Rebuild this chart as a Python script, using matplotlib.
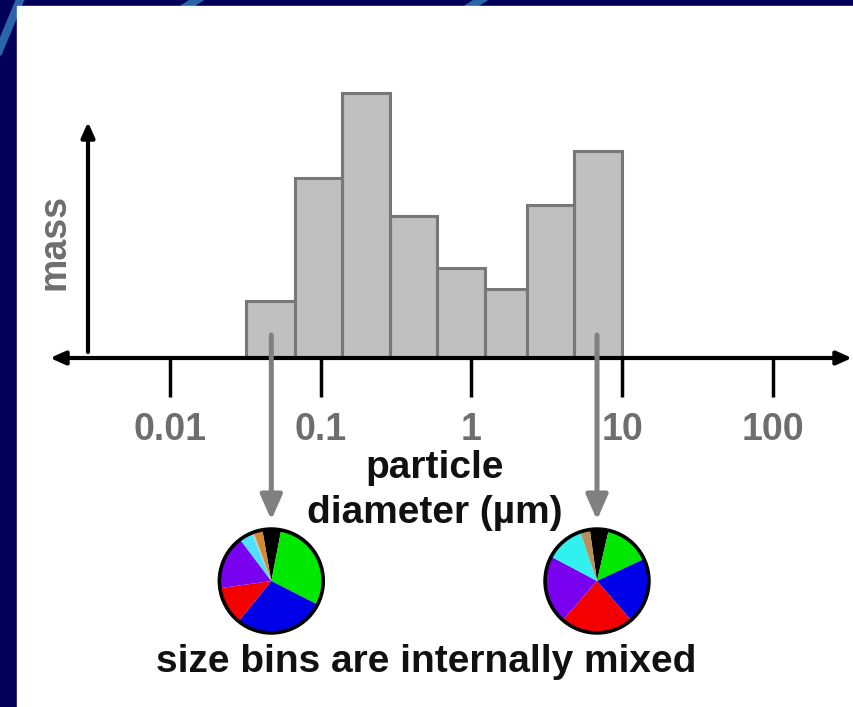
import numpy as np
import matplotlib.pyplot as plt
from matplotlib.patches import Rectangle, Circle
from matplotlib.lines import Line2D

plt.rcParams['font.family'] = ['Liberation Sans', 'DejaVu Sans']

# histogram data
bin_edges = [0.032, 0.067, 0.139, 0.288, 0.593, 1.23, 2.32, 4.81, 10.0]
mass = [0.215, 0.68, 1.0, 0.536, 0.34, 0.26, 0.577, 0.78]
tick_values = [0.01, 0.1, 1, 10, 100]
tick_labels = ['0.01', '0.1', '1', '10', '100']

# diameters where the arrows point to the mixed pies
mix_diameters = [0.047, 6.8]
left_fracs = [21, 106, 102, 43, 61, 15, 2, 10]
left_colors = ['#000000', '#00e800', '#0000e8', '#f50000', '#7a00f0', '#50e0ff', '#c8c8c8', '#d08a30']
right_fracs = [21, 52, 74, 82, 77, 43, 11]
right_colors = ['#000000', '#00e800', '#0000e8', '#f50000', '#7a00f0', '#30f0f0', '#b89060']

W, H = 854, 707
fig = plt.figure(figsize=(W / 100, H / 100), dpi=100, facecolor='#00005a')

# blue streaks in the border
for (x0, y0, x1, y1) in [(-5, 60, 22, -5), (178, 12, 206, -6), (462, 12, 490, -6)]:
    fig.add_artist(Line2D([x0 / W, x1 / W], [1 - y0 / H, 1 - y1 / H], color='#2a64aa',
                          lw=6, transform=fig.transFigure, zorder=-2))
fig.add_artist(Rectangle((17 / W, 0), 1 - 17 / W, 1 - 6 / H, transform=fig.transFigure,
                         color='white', zorder=-1))

# axes covering whole figure, log x
x_one, decade = 471.5, 150.75   # pixel of 1 um, pixels per decade
y_zero, unit = 358, 265        # pixel of zero mass, pixels per mass unit
ax = fig.add_axes([0, 0, 1, 1])
ax.set_xscale('log')
ax.set_xlim(10 ** ((0 - x_one) / decade), 10 ** ((W - x_one) / decade))
ax.set_ylim(-(H - y_zero) / unit, y_zero / unit)
ax.axis('off')

widths = np.diff(bin_edges)
ax.bar(bin_edges[:-1], mass, width=widths, align='edge', color='#c0c0c0',
       edgecolor='#777777', linewidth=2.2, zorder=2)

# horizontal axis with arrows both ends
xl = 10 ** ((50 - x_one) / decade)
xr = 10 ** ((852 - x_one) / decade)
ax.annotate('', xy=(xr, 0), xytext=(xl, 0),
            arrowprops=dict(arrowstyle='<|-|>,head_length=0.45,head_width=0.2', color='black',
                            lw=3, shrinkA=0, shrinkB=0, mutation_scale=20), zorder=3)
# vertical mass axis
xm = 10 ** ((88 - x_one) / decade)
ax.annotate('', xy=(xm, 236 / unit), xytext=(xm, 6 / unit),
            arrowprops=dict(arrowstyle='-|>,head_length=0.45,head_width=0.2', color='black',
                            lw=3, shrinkA=0, shrinkB=0, mutation_scale=20), zorder=3)

ax.vlines(tick_values, -39 / unit, 0, color='black', lw=2.5, zorder=3)
for v, lab in zip(tick_values, tick_labels):
    ax.text(v, -82 / unit, lab, ha='center', va='baseline', fontsize=27,
            color='#6e6e6e', fontweight='bold')

fig.text(65 / W, 1 - 242 / H, 'mass', rotation=90, rotation_mode='anchor', ha='center',
         va='baseline', fontsize=27, color='#6e6e6e', fontweight='bold')

# gray arrows down to the pies
for d in mix_diameters:
    ax.annotate('', xy=(d, -162 / unit), xytext=(d, 23 / unit),
                arrowprops=dict(arrowstyle='-|>,head_length=0.75,head_width=0.33', color='#808080',
                                lw=3.6, shrinkA=0, shrinkB=0, mutation_scale=20), zorder=4)

fig.text(435 / W, 1 - 478 / H, 'particle', ha='center', va='baseline', fontsize=28,
         fontweight='bold', color='#111111')
fig.text(435 / W, 1 - 523 / H, 'diameter (µm)', ha='center', va='baseline', fontsize=28,
         fontweight='bold', color='#111111')
fig.text(426.5 / W, 1 - 672 / H, 'size bins are internally mixed', ha='center', va='baseline',
         fontsize=28, fontweight='bold', color='#111111')

# pies
r = 54
cy = H - 581
for d, fracs, cols, start in [(mix_diameters[0], left_fracs, left_colors, 100),
                              (mix_diameters[1], right_fracs, right_colors, 98)]:
    cx = ax.transData.transform((d, 0))[0]
    pax = fig.add_axes([(cx - r) / W, (cy - r) / H, 2 * r / W, 2 * r / H])
    pax.pie(fracs, colors=cols, startangle=start, counterclock=False,
            wedgeprops=dict(linewidth=0))
    pax.add_patch(Circle((0, 0), 1, fill=False, ec='black', lw=2.6))
    pax.set_xlim(-1.04, 1.04)
    pax.set_ylim(-1.04, 1.04)
    pax.axis('off')

fig.savefig('out.png', dpi=100, facecolor=fig.get_facecolor())
